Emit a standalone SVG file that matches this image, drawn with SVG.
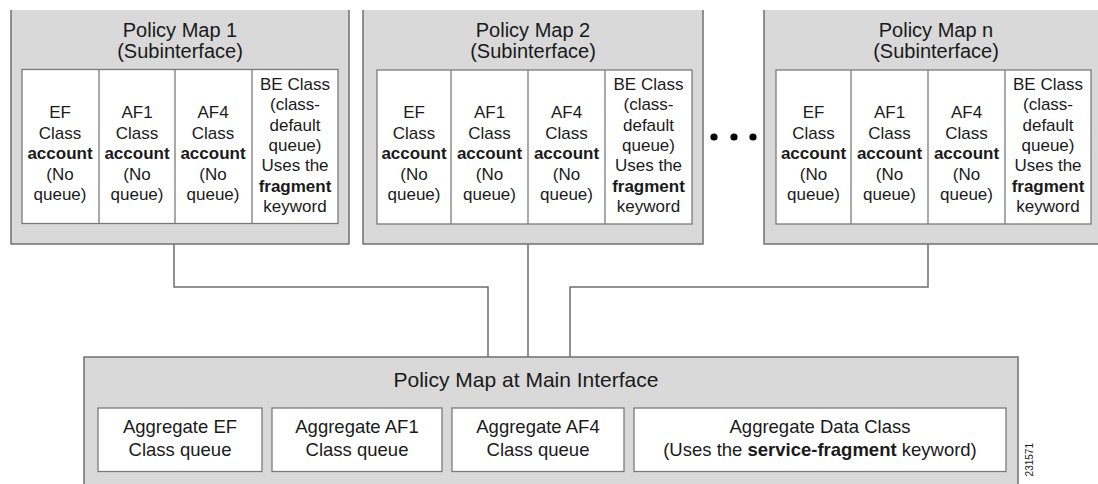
<svg xmlns="http://www.w3.org/2000/svg" width="1098" height="484" viewBox="0 0 1098 484">
<style>
.bg{fill:#d9d9d9;stroke:none}
.bd{fill:none;stroke:#707070;stroke-width:1.5}
.cell{fill:#ffffff;stroke:#7a7a7a;stroke-width:1.3}
.ln{stroke:#7a7a7a;stroke-width:1.3}
text{font-family:"Liberation Sans",Arial,sans-serif;fill:#1a1a1a;text-anchor:middle}
.t{font-size:20px}
.mt{font-size:21px}
.c{font-size:17px}
.a{font-size:18.5px}
.b{font-weight:bold}
.conn{fill:none;stroke:#6e6e6e;stroke-width:1.5}
</style>
<rect width="1098" height="484" fill="#ffffff"/>

<g id="connectors">
<path class="conn" d="M174,244 V287 H488 V357"/>
<path class="conn" d="M528,244 V357"/>
<path class="conn" d="M928,244 V287 H570 V357"/>
</g>

<g id="policy-map-1">
<rect class="bg" x="11" y="10" width="338" height="234"/>
<path class="bd" d="M11,10 V244 H349 V10"/>
<text class="t" x="180" y="37">Policy Map 1</text>
<text class="t" x="180" y="58">(Subinterface)</text>
<rect class="cell" x="22" y="69.5" width="316" height="154"/>
<line class="ln" x1="99" y1="69.5" x2="99" y2="223.5"/>
<line class="ln" x1="175" y1="69.5" x2="175" y2="223.5"/>
<line class="ln" x1="252" y1="69.5" x2="252" y2="223.5"/>
<text class="c" x="60" y="118">EF</text>
<text class="c" x="60" y="138.5">Class</text>
<text class="c b" x="60" y="159">account</text>
<text class="c" x="60" y="179.5">(No</text>
<text class="c" x="60" y="200">queue)</text>
<text class="c" x="137" y="118">AF1</text>
<text class="c" x="137" y="138.5">Class</text>
<text class="c b" x="137" y="159">account</text>
<text class="c" x="137" y="179.5">(No</text>
<text class="c" x="137" y="200">queue)</text>
<text class="c" x="213" y="118">AF4</text>
<text class="c" x="213" y="138.5">Class</text>
<text class="c b" x="213" y="159">account</text>
<text class="c" x="213" y="179.5">(No</text>
<text class="c" x="213" y="200">queue)</text>
<text class="c" x="295" y="90">BE Class</text>
<text class="c" x="295" y="110.3">(class-</text>
<text class="c" x="295" y="130.6">default</text>
<text class="c" x="295" y="151">queue)</text>
<text class="c" x="295" y="171.3">Uses the</text>
<text class="c b" x="295" y="191.6">fragment</text>
<text class="c" x="295" y="212">keyword</text>
</g>

<g id="policy-map-2">
<rect class="bg" x="363" y="10" width="340" height="234"/>
<path class="bd" d="M363,10 V244 H703 V10"/>
<text class="t" x="533" y="37">Policy Map 2</text>
<text class="t" x="533" y="58">(Subinterface)</text>
<rect class="cell" x="377" y="70" width="315" height="154"/>
<line class="ln" x1="451" y1="70" x2="451" y2="224"/>
<line class="ln" x1="528" y1="70" x2="528" y2="224"/>
<line class="ln" x1="605" y1="70" x2="605" y2="224"/>
<text class="c" x="414" y="118">EF</text>
<text class="c" x="414" y="138.5">Class</text>
<text class="c b" x="414" y="159">account</text>
<text class="c" x="414" y="179.5">(No</text>
<text class="c" x="414" y="200">queue)</text>
<text class="c" x="489.5" y="118">AF1</text>
<text class="c" x="489.5" y="138.5">Class</text>
<text class="c b" x="489.5" y="159">account</text>
<text class="c" x="489.5" y="179.5">(No</text>
<text class="c" x="489.5" y="200">queue)</text>
<text class="c" x="566.5" y="118">AF4</text>
<text class="c" x="566.5" y="138.5">Class</text>
<text class="c b" x="566.5" y="159">account</text>
<text class="c" x="566.5" y="179.5">(No</text>
<text class="c" x="566.5" y="200">queue)</text>
<text class="c" x="648.5" y="90">BE Class</text>
<text class="c" x="648.5" y="110.3">(class-</text>
<text class="c" x="648.5" y="130.6">default</text>
<text class="c" x="648.5" y="151">queue)</text>
<text class="c" x="648.5" y="171.3">Uses the</text>
<text class="c b" x="648.5" y="191.6">fragment</text>
<text class="c" x="648.5" y="212">keyword</text>
</g>

<g id="ellipsis">
<circle cx="714" cy="137" r="3.6" fill="#000"/>
<circle cx="734" cy="137" r="3.6" fill="#000"/>
<circle cx="753" cy="137" r="3.6" fill="#000"/>
</g>

<g id="policy-map-n">
<rect class="bg" x="764" y="10" width="340" height="234"/>
<path class="bd" d="M764,10 V244 H1104"/>
<text class="t" x="936" y="37">Policy Map n</text>
<text class="t" x="936" y="58">(Subinterface)</text>
<rect class="cell" x="776" y="70" width="315" height="154"/>
<line class="ln" x1="851" y1="70" x2="851" y2="224"/>
<line class="ln" x1="928" y1="70" x2="928" y2="224"/>
<line class="ln" x1="1005" y1="70" x2="1005" y2="224"/>
<text class="c" x="813.5" y="118">EF</text>
<text class="c" x="813.5" y="138.5">Class</text>
<text class="c b" x="813.5" y="159">account</text>
<text class="c" x="813.5" y="179.5">(No</text>
<text class="c" x="813.5" y="200">queue)</text>
<text class="c" x="889.5" y="118">AF1</text>
<text class="c" x="889.5" y="138.5">Class</text>
<text class="c b" x="889.5" y="159">account</text>
<text class="c" x="889.5" y="179.5">(No</text>
<text class="c" x="889.5" y="200">queue)</text>
<text class="c" x="966.5" y="118">AF4</text>
<text class="c" x="966.5" y="138.5">Class</text>
<text class="c b" x="966.5" y="159">account</text>
<text class="c" x="966.5" y="179.5">(No</text>
<text class="c" x="966.5" y="200">queue)</text>
<text class="c" x="1048" y="90">BE Class</text>
<text class="c" x="1048" y="110.3">(class-</text>
<text class="c" x="1048" y="130.6">default</text>
<text class="c" x="1048" y="151">queue)</text>
<text class="c" x="1048" y="171.3">Uses the</text>
<text class="c b" x="1048" y="191.6">fragment</text>
<text class="c" x="1048" y="212">keyword</text>
</g>

<g id="main-interface">
<rect class="bg" x="84" y="357" width="934" height="130"/>
<path class="bd" d="M84,490 V357 H1018 V490"/>
<text class="mt" x="526" y="387">Policy Map at Main Interface</text>
<rect class="cell" x="98" y="408" width="164" height="63.5"/>
<text class="a" x="180" y="433">Aggregate EF</text>
<text class="a" x="180" y="456">Class queue</text>
<rect class="cell" x="272" y="408" width="170" height="63.5"/>
<text class="a" x="357" y="433">Aggregate AF1</text>
<text class="a" x="357" y="456">Class queue</text>
<rect class="cell" x="452" y="408" width="172" height="63.5"/>
<text class="a" x="538" y="433">Aggregate AF4</text>
<text class="a" x="538" y="456">Class queue</text>
<rect class="cell" x="634" y="408" width="372" height="63.5"/>
<text class="a" x="820" y="433">Aggregate Data Class</text>
<text class="a" x="820" y="456">(Uses the <tspan class="b">service-fragment</tspan> keyword)</text>
</g>

<text x="1033" y="443" transform="rotate(-90 1033 443)" style="font-size:10px;text-anchor:end">231571</text>
</svg>
